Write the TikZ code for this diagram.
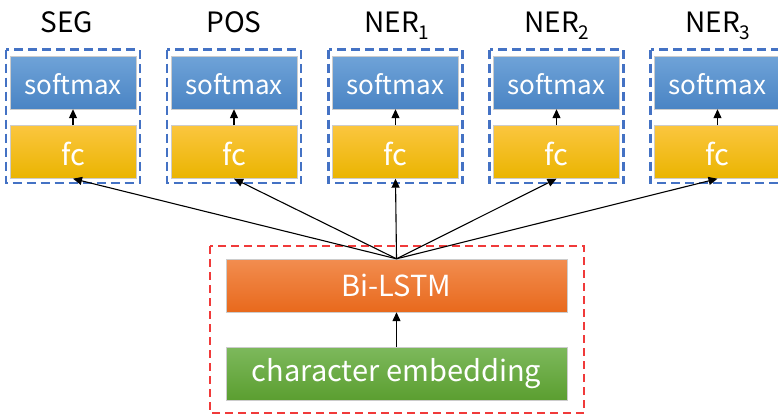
\documentclass[tikz,border=0pt]{standalone}
\usepackage{fontspec}
\setmainfont{Noto Sans CJK SC}
\usetikzlibrary{arrows.meta}
\definecolor{dashblue}{HTML}{4472C4}
\definecolor{dashred}{HTML}{F03A3A}
\definecolor{smtop}{HTML}{6FA3D8}
\definecolor{smbot}{HTML}{4A84C4}
\definecolor{fctop}{HTML}{FBC63F}
\definecolor{fcbot}{HTML}{EAB400}
\definecolor{lstmtop}{HTML}{F28D50}
\definecolor{lstmbot}{HTML}{E8691C}
\definecolor{embtop}{HTML}{7DB95C}
\definecolor{embbot}{HTML}{5B9E30}
\tikzset{
  layer/.style={minimum height=53pt, inner sep=0pt, text=white, draw=white!80!black, line width=0.4pt},
  smbox/.style={layer, minimum width=126pt, top color=smtop, bottom color=smbot,
    font=\fontsize{26}{26}\selectfont, text height=30pt, text depth=7pt},
  fcbox/.style={layer, minimum width=126pt, top color=fctop, bottom color=fcbot,
    font=\fontsize{29}{29}\selectfont, text height=32pt, text depth=6pt},
  wide/.style={layer, minimum width=341pt, font=\fontsize{29}{29}\selectfont},
  task/.style={font=\fontsize{28}{28}\selectfont, inner sep=0pt, anchor=base},
  blueframe/.style={draw=dashblue, line width=2.4pt, dash pattern=on 9pt off 5pt},
  redframe/.style={draw=dashred, line width=1.5pt, dash pattern=on 8pt off 5pt},
  link/.style={line width=1.1pt, -{Triangle[length=9pt,width=8pt]}},
}
\newcommand{\lowidx}[1]{\raisebox{-0.28em}{\fontsize{19}{19}\selectfont #1}}
\begin{document}
\begin{tikzpicture}[x=1pt, y=-1pt]
\useasboundingbox (0,0) rectangle (778,415);
% task heads: softmax over fc, each in a dashed frame
\foreach \i/\cx/\tx/\lab in {1/73/67/SEG, 2/234/234/POS, 3/395.5/397/NER\lowidx{1}, 4/556.5/557/NER\lowidx{2}, 5/717.5/718/NER\lowidx{3}}{
  \draw[blueframe] (\cx-67,49.5) rectangle (\cx+67,183);
  \node[smbox] (sm\i) at (\cx,82.5) {softmax};
  \node[fcbox] (fc\i) at (\cx,152) {fc};
  \node[task] (t\i) at (\tx,32) {\lab};
  \draw[link] (fc\i.north) -- (sm\i.south);
}
% shared encoder
\draw[redframe] (210,246) rectangle (584,413);
\node[wide, top color=lstmtop, bottom color=lstmbot] (lstm) at (396.5,285.5) {Bi-LSTM};
\node[wide, top color=embtop, bottom color=embbot] (emb) at (396.5,373.5) {character embedding};
\draw[link] (emb.north) -- (lstm.south);
\foreach \i in {1,...,5}{
  \draw[link] (lstm.north) -- (fc\i.south);
}
\end{tikzpicture}
\end{document}
